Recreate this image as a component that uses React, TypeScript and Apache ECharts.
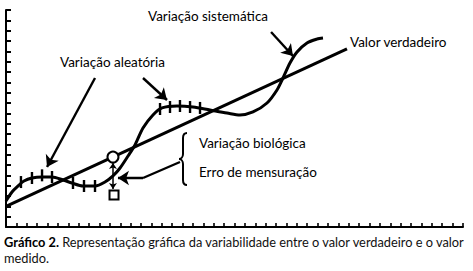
import React, { useEffect, useRef } from "react";
import * as echarts from "echarts";

// Measured curve (valor medido com variação aleatória + sistemática)
const measuredCurve: [number, number][] = [
  [0.0, 2.52], [0.58, 3.39], [1.16, 3.97], [1.73, 4.45], [2.5, 4.74], [3.47, 4.84],
  [4.43, 4.84], [5.49, 4.55], [6.35, 4.26], [7.41, 3.97], [8.57, 3.97], [9.53, 4.35],
  [10.3, 4.94], [10.98, 5.71], [11.75, 6.87], [12.42, 7.94], [13.19, 9.58], [14.15, 10.84],
  [15.02, 11.52], [16.46, 11.71], [18.0, 11.61], [19.64, 11.32], [21.28, 11.03], [22.53, 10.84],
  [23.78, 11.13], [25.13, 12.0], [26.09, 13.26], [26.67, 14.42], [27.34, 15.87], [28.02, 16.94],
  [28.98, 17.81], [29.94, 18.19], [30.52, 18.29],
];

// True value line
const trueValueLine: [number, number][] = [
  [0, 1.99],
  [32.83, 17.23],
];

// Random-variation ticks on the curve
const errorTicks: [number, number][] = [
  [1.44, 4.35], [2.5, 4.74], [3.47, 5.0], [4.43, 4.84],
  [6.45, 4.26], [7.51, 3.97], [8.57, 3.97],
  [14.83, 11.42], [15.79, 11.61], [16.75, 11.71], [17.72, 11.61], [18.68, 11.52],
];

const truePoint: [number, number] = [10.3, 6.77];
const measuredPoint: [number, number] = [10.4, 3.1];
const deviationArrow: [number, number][] = [
  [10.3, 6.19],
  [10.3, 3.68],
];

// Annotation arrows (start -> end)
const arrowSegments: [number, number][][] = [
  [[8.57, 14.42], [3.95, 5.81]],
  [[13.19, 14.42], [15.5, 12.29]],
  [[25.52, 18.87], [27.63, 16.55]],
  [[13.19, 4.74], [10.78, 4.74]],
];
const plainSegments: [number, number][][] = [
  [[16.75, 6.29], [13.19, 4.74]],
];

const xTicksMax = 44;
const yTicksMax = 21;

const labels = {
  sistematica: "Variação sistemática",
  aleatoria: "Variação aleatória",
  verdadeiro: "Valor verdadeiro",
  biologica: "Variação biológica",
  erro: "Erro de mensuração",
};
const captionBold = "Gráfico 2.";
const captionText = " Representação gráfica da variabilidade entre o valor verdadeiro e o valor";
const captionLine2 = "medido.";

const FONT = "Lato, 'Noto Sans', sans-serif";

let braceRegistered = false;
function registerBrace() {
  if (braceRegistered) return;
  const d =
    "M8 0 C5 0 4 2 4 5 L4 21 C4 24 2 26 0 26 C2 26 4 28 4 31 L4 47 C4 50 5 52 8 52";
  echarts.graphic.registerShape("brace", (echarts.graphic as any).extendPath(d, {}));
  braceRegistered = true;
}

export default function App() {
  const ref = useRef<HTMLDivElement>(null);
  useEffect(() => {
    if (!ref.current) return;
    registerBrace();
    const chart = echarts.init(ref.current, undefined, { renderer: "svg" });
    const labelStyle = { fill: "#000", fontSize: 13.5, fontFamily: FONT, verticalAlign: "middle", align: "left" };
    chart.setOption({
      animation: false,
      backgroundColor: "#fff",
      grid: { left: 6, top: 10, width: 457, height: 217 },
      xAxis: {
        type: "value",
        min: 0,
        max: xTicksMax,
        interval: 1,
        axisLine: { lineStyle: { color: "#000", width: 2 } },
        axisTick: { inside: true, length: 4, lineStyle: { color: "#000", width: 1.6 } },
        axisLabel: { show: false },
        splitLine: { show: false },
      },
      yAxis: {
        type: "value",
        min: 0,
        max: yTicksMax,
        interval: 1,
        axisLine: { lineStyle: { color: "#000", width: 2 } },
        axisTick: { inside: true, length: 5, lineStyle: { color: "#000", width: 2 } },
        axisLabel: { show: false },
        splitLine: { show: false },
      },
      series: [
        {
          type: "line",
          data: trueValueLine,
          showSymbol: false,
          lineStyle: { color: "#000", width: 3 },
          z: 2,
        },
        {
          type: "line",
          data: measuredCurve,
          smooth: 0.3,
          showSymbol: false,
          lineStyle: { color: "#000", width: 3 },
          z: 2,
        },
        {
          type: "scatter",
          data: errorTicks,
          symbol: "rect",
          symbolSize: [2.4, 12],
          itemStyle: { color: "#000", opacity: 1 },
          z: 3,
        },
        {
          type: "lines",
          coordinateSystem: "cartesian2d",
          data: arrowSegments.map((c) => ({ coords: c })),
          symbol: ["none", "arrow"],
          symbolSize: 11,
          lineStyle: { color: "#000", width: 2.4, opacity: 1, curveness: 0 },
          z: 4,
        },
        {
          type: "lines",
          coordinateSystem: "cartesian2d",
          data: plainSegments.map((c) => ({ coords: c })),
          symbol: ["none", "none"],
          lineStyle: { color: "#000", width: 2.4, opacity: 1, curveness: 0 },
          z: 4,
        },
        {
          type: "lines",
          coordinateSystem: "cartesian2d",
          data: [{ coords: deviationArrow }],
          symbol: ["arrow", "arrow"],
          symbolSize: 6,
          lineStyle: { color: "#000", width: 1.5, opacity: 1, curveness: 0 },
          z: 4,
        },
        {
          type: "scatter",
          data: [truePoint],
          symbol: "circle",
          symbolSize: 11,
          itemStyle: { color: "#fff", borderColor: "#000", borderWidth: 2, opacity: 1 },
          z: 5,
        },
        {
          type: "scatter",
          data: [measuredPoint],
          symbol: "rect",
          symbolSize: 9,
          itemStyle: { color: "#fff", borderColor: "#000", borderWidth: 2, opacity: 1 },
          z: 5,
        },
      ],
      graphic: [
        { type: "text", x: 148, y: 16, style: { ...labelStyle, text: labels.sistematica } },
        { type: "text", x: 60, y: 62, style: { ...labelStyle, text: labels.aleatoria } },
        { type: "text", x: 350, y: 42, style: { ...labelStyle, text: labels.verdadeiro } },
        { type: "text", x: 199, y: 143, style: { ...labelStyle, text: labels.biologica } },
        { type: "text", x: 199, y: 172, style: { ...labelStyle, text: labels.erro } },
        {
          type: "brace",
          x: 179,
          y: 133,
          style: { stroke: "#000", fill: "none", lineWidth: 2 },
        },
        {
          type: "text",
          x: 4,
          y: 234,
          style: {
            text: "{b|" + captionBold + "}{r|" + captionText + "}\n{r|" + captionLine2 + "}",
            verticalAlign: "top",
            align: "left",
            fontFamily: FONT,
            fontSize: 12.8,
            fill: "#111",
            lineHeight: 16,
            rich: {
              b: { fontWeight: "bold", fontFamily: FONT, fontSize: 12.8, fill: "#000", lineHeight: 16 },
              r: { fontFamily: FONT, fontSize: 12.8, fill: "#111", lineHeight: 16 },
            },
          },
        },
      ],
    });
    return () => chart.dispose();
  }, []);
  return (
    <div
      ref={ref}
      style={{ position: "fixed", left: 0, top: 0, width: 473, height: 271, background: "#fff" }}
    />
  );
}
